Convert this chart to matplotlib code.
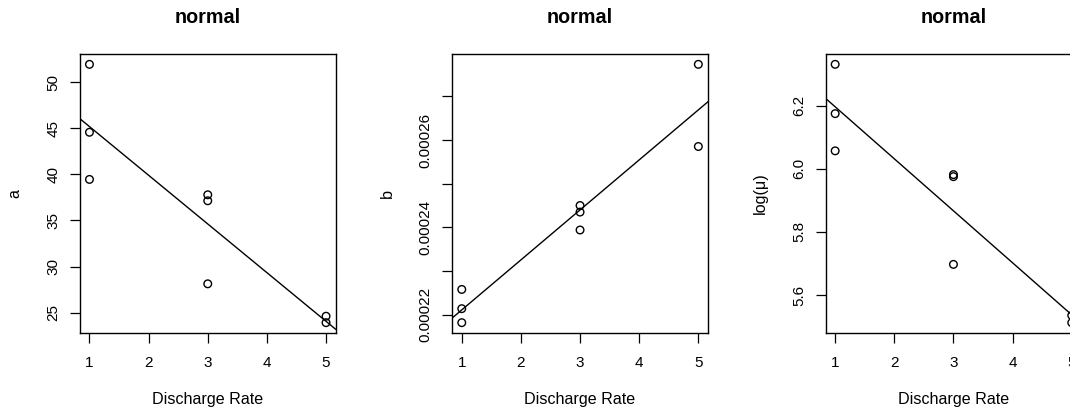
import numpy as np
import matplotlib
matplotlib.use("Agg")
import matplotlib.pyplot as plt
from matplotlib.ticker import FixedLocator, FuncFormatter

plt.rcParams["font.family"] = ["Liberation Sans", "DejaVu Sans"]

# discharge rate of each sample
rate = [1, 1, 1, 3, 3, 3, 5, 5]
# fitted parameters
a_vals = [51.96, 44.58, 39.46, 37.79, 37.14, 28.12, 24.6, 23.9]
b_vals = [0.0002258, 0.0002214, 0.0002182, 0.0002450, 0.0002435, 0.0002394,
          0.0002773, 0.0002585]
logmu_vals = [6.332, 6.1755, 6.0574, 5.982, 5.9755, 5.697, 5.535, 5.512]

panel_titles = ["normal", "normal", "normal"]
y_names = ["a", "b", "log(μ)"]
x_name = "Discharge Rate"
x_ticks = [1, 2, 3, 4, 5]
y_ticks = [[25, 30, 35, 40, 45, 50],
           [0.00022, 0.00023, 0.00024, 0.00025, 0.00026, 0.00027],
           [5.6, 5.8, 6.0, 6.2]]
y_labelled = [None, [0.00022, 0.00024, 0.00026], None]


def r_range(v):
    # R style 4% padding around the data
    lo, hi = min(v), max(v)
    d = (hi - lo) * 0.04
    return lo - d, hi + d


W, H = 1070, 411
fig = plt.figure(figsize=(W / 100, H / 100), dpi=100)
lefts = [80, 452.3, 825.7]
box_w, box_top, box_bot = 255.5, 54, 333

series = [a_vals, b_vals, logmu_vals]
for i in range(3):
    ax = fig.add_axes([lefts[i] / W, (H - box_bot) / H, box_w / W,
                       (box_bot - box_top) / H])
    y = np.array(series[i])
    x = np.array(rate, dtype=float)
    ax.scatter(x, y, s=30, facecolors="none", edgecolors="black",
               linewidths=1.0, zorder=3, clip_on=False)
    xl = r_range(x)
    yl = r_range(y)
    ax.set_xlim(xl)
    ax.set_ylim(yl)
    slope, icpt = np.polyfit(x, y, 1)
    xx = np.array(xl)
    ax.plot(xx, icpt + slope * xx, color="black", lw=1.0)

    ax.set_xticks(x_ticks)
    ax.yaxis.set_major_locator(FixedLocator(y_ticks[i]))
    if y_labelled[i] is not None:
        keep = y_labelled[i]
        ax.yaxis.set_major_formatter(FuncFormatter(
            lambda v, p, keep=keep: ("%.5f" % v) if any(abs(v - k) < 1e-9 for k in keep) else ""))
    elif i == 2:
        ax.yaxis.set_major_formatter(FuncFormatter(lambda v, p: "%.1f" % v))
    else:
        ax.yaxis.set_major_formatter(FuncFormatter(lambda v, p: "%g" % v))
    ax.tick_params(axis="both", direction="out", length=7.2, width=0.9,
                   labelsize=11, color="black")
    ax.tick_params(axis="x", pad=9.5)
    ax.tick_params(axis="y", pad=7)
    for lab in ax.get_yticklabels():
        lab.set_rotation(90)
        lab.set_va("center")
    for sp in ax.spines.values():
        sp.set_linewidth(1.0)

    ax.set_xlabel(x_name, fontsize=11.6)
    ax.xaxis.label.set_va("center")
    ax.xaxis.set_label_coords(0.5, -0.24)
    ax.set_ylabel(y_names[i], fontsize=11.6)
    ax.yaxis.label.set_va("center")
    ax.yaxis.set_label_coords(-0.255, 0.5)
    ax.text(0.5, 1.1326, panel_titles[i], transform=ax.transAxes,
            ha="center", va="center", fontsize=14.2, fontweight="bold")

fig.savefig("out.png", dpi=100)
